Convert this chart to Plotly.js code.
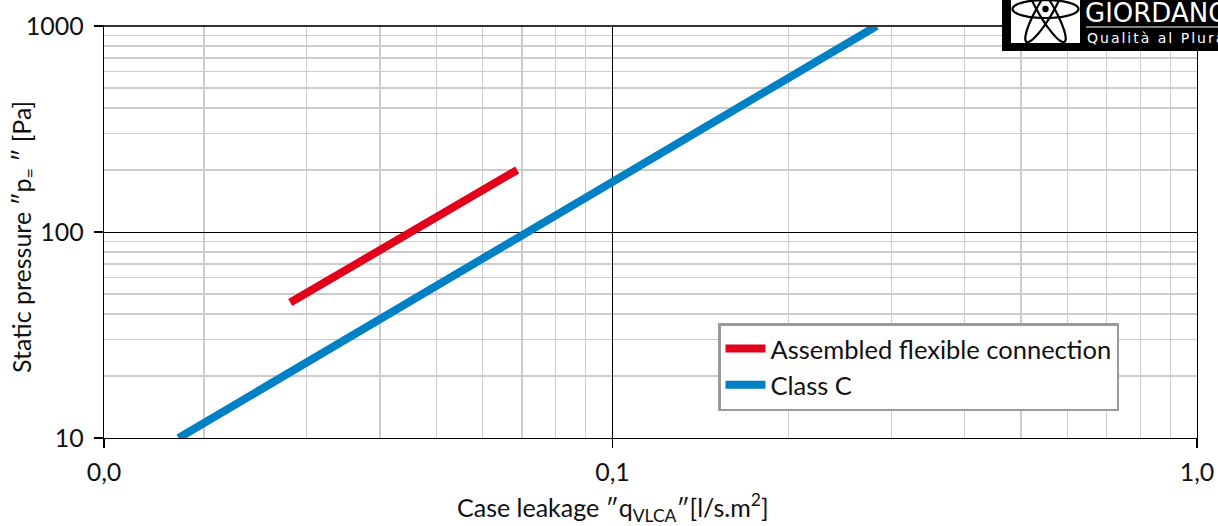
<!DOCTYPE html>
<html>
<head>
<meta charset="utf-8">
<script src="https://cdn.plot.ly/plotly-3.0.1.min.js"></script>
<style>
html,body{margin:0;padding:0;background:#fff;}
#chart{width:1218px;height:526px;}
</style>
</head>
<body>
<div id="chart"></div>
<script>
// ---- data ----
const seriesNames = ['Assembled flexible connection', 'Class C'];
const flexX = [0.0281, 0.0687];
const flexY = [45.5, 200];
const classCX = [0.0181, 0.283];
const classCY = [10, 1000];

// ---- axes ----
const xTickVals = [0.01349, 0.1, 1];
const xTickText = ['0,0', '0,1', '1,0'];
const yTickVals = [10, 100, 1000];
const yTickText = ['10', '100', '1000'];
const xMinorVals = [0.02,0.03,0.04,0.05,0.06,0.07,0.08,0.09,0.2,0.3,0.4,0.5,0.6,0.7,0.8,0.9];
const yMinorVals = [20,30,40,50,60,70,80,90,200,300,400,500,600,700,800,900];

const xTitle = 'Case leakage ″q<sub>VLCA</sub>″[l/s.m<sup>2</sup>]';
const yTitle = 'Static pressure ″p<sub>=</sub> ″ [Pa]';
const logoTitle = 'GIORDANO';
const logoSub = 'Qualità al Plurale';

const FONT = 'Lato, "Open Sans", sans-serif';
const LOGOFONT = '"DejaVu Sans", sans-serif';
const RED = '#e2001a';
const BLUE = '#0081c6';

const traces = [
  {x: flexX, y: flexY, name: seriesNames[0], mode: 'lines', type: 'scatter',
   line: {color: RED, width: 8}},
  {x: classCX, y: classCY, name: seriesNames[1], mode: 'lines', type: 'scatter',
   line: {color: BLUE, width: 8}}
];

// pixel -> paper helpers (for decoration placement)
const ML = 104, MR = 21, MT = 26, MB = 88, W = 1218, H = 526;
const PW = W - ML - MR, PH = H - MT - MB;
const px = v => (v - ML) / PW;
const py = v => (H - MB - v) / PH;

// atom logo outline (decoration)
function ellipsePath(cx, cy, rx, ry, deg) {
  const th = deg * Math.PI / 180;
  let d = '';
  for (let i = 0; i <= 72; i++) {
    const t = i / 72 * 2 * Math.PI;
    const X = cx + rx * Math.cos(t) * Math.cos(th) - ry * Math.sin(t) * Math.sin(th);
    const Y = cy + rx * Math.cos(t) * Math.sin(th) + ry * Math.sin(t) * Math.cos(th);
    d += (i === 0 ? 'M' : 'L') + px(X).toFixed(5) + ',' + py(Y).toFixed(5);
  }
  return d + 'Z';
}
const ACX = 1045.5, ACY = 9;
const atomShapes = [[33, 9, 0], [38, 8, 60], [38, 8, -60]].map(e => ({
  type: 'path', xref: 'paper', yref: 'paper', path: ellipsePath(ACX, ACY, e[0], e[1], e[2]),
  line: {color: '#000', width: 2.2}, fillcolor: 'rgba(0,0,0,0)', layer: 'above'
}));

const layout = {
  width: W, height: H,
  margin: {l: ML, r: MR, t: MT, b: MB, pad: 0},
  paper_bgcolor: '#fff', plot_bgcolor: '#fff',
  font: {family: FONT, color: '#111', size: 24},
  showlegend: true,
  legend: {
    x: px(718), y: py(323), xanchor: 'left', yanchor: 'top',
    bgcolor: '#fff', bordercolor: '#9a9a9a', borderwidth: 2.5,
    font: {family: FONT, size: 25.5, color: '#111'},
    itemwidth: 40
  },
  xaxis: {
    type: 'log',
    range: [Math.log10(xTickVals[0]), 0],
    tickmode: 'array', tickvals: xTickVals, ticktext: xTickText,
    ticks: 'outside', ticklen: 9, tickwidth: 1.3, tickcolor: '#000',
    tickfont: {family: FONT, size: 25, color: '#111'},
    ticklabelstandoff: 3,
    showline: true, linecolor: '#000', linewidth: 1.3, mirror: true,
    showgrid: true, gridcolor: '#000', gridwidth: 1,
    minor: {tickmode: 'array', tickvals: xMinorVals, showgrid: true, gridcolor: '#cccccc', gridwidth: 1.2, ticks: ''},
    zeroline: false,
    fixedrange: true
  },
  yaxis: {
    type: 'log',
    range: [1, 3],
    tickmode: 'array', tickvals: yTickVals, ticktext: yTickText,
    ticks: 'outside', ticklen: 9, tickwidth: 1.3, tickcolor: '#000',
    tickfont: {family: FONT, size: 25, color: '#111'},
    ticklabelstandoff: 5,
    showline: true, linecolor: '#000', linewidth: 1.3, mirror: true,
    showgrid: true, gridcolor: '#000', gridwidth: 1,
    minor: {tickmode: 'array', tickvals: yMinorVals, showgrid: true, gridcolor: '#cccccc', gridwidth: 1.2, ticks: ''},
    zeroline: false,
    fixedrange: true
  },
  shapes: [
    // darker top border
    {type: 'line', xref: 'paper', yref: 'paper', x0: 0, x1: 1, y0: 1, y1: 1, line: {color: '#333', width: 2}},
    // logo block
    {type: 'rect', xref: 'paper', yref: 'paper', x0: px(1002), x1: px(1230), y0: py(51), y1: py(-5), fillcolor: '#000', line: {width: 0}, layer: 'above'},
    {type: 'rect', xref: 'paper', yref: 'paper', x0: px(1011), x1: px(1080), y0: py(43), y1: py(-5), fillcolor: '#fff', line: {width: 0}, layer: 'above'},
    {type: 'line', xref: 'paper', yref: 'paper', x0: px(1086), x1: px(1230), y0: py(27), y1: py(27), line: {color: '#fff', width: 1.2}, layer: 'above'}
  ].concat(atomShapes).concat([
    {type: 'circle', xref: 'paper', yref: 'paper', x0: px(ACX - 3.2), x1: px(ACX + 3.2), y0: py(ACY + 3.2), y1: py(ACY - 3.2), fillcolor: '#000', line: {width: 0}, layer: 'above'}
  ]),
  annotations: [
    {text: xTitle, xref: 'paper', yref: 'paper', x: px(613), y: py(507), xanchor: 'center', yanchor: 'middle',
     showarrow: false, font: {family: FONT, size: 25, color: '#111'}},
    {text: yTitle, xref: 'paper', yref: 'paper', x: px(23), y: py(237), xanchor: 'center', yanchor: 'middle',
     textangle: -90, showarrow: false, font: {family: FONT, size: 25, color: '#111'}},
    {text: logoTitle, xref: 'paper', yref: 'paper', x: px(1083), y: py(13), xanchor: 'left', yanchor: 'middle',
     showarrow: false, font: {family: LOGOFONT, size: 26, color: '#fff'}},
    {text: logoSub, xref: 'paper', yref: 'paper', x: px(1085), y: py(38), xanchor: 'left', yanchor: 'middle',
     showarrow: false, font: {family: LOGOFONT, size: 14, color: '#fff'}}
  ]
};

Plotly.newPlot('chart', traces, layout, {displayModeBar: false, staticPlot: true}).then(function (gd) {
  gd.querySelectorAll('g.annotation text').forEach(function (t) {
    if (t.textContent === logoSub) {
      const before = t.getBBox();
      t.style.letterSpacing = '2px';
      const after = t.getBBox();
      const dx = before.x - after.x;
      const prev = t.getAttribute('transform') || '';
      t.setAttribute('transform', (prev + ' translate(' + dx + ',0)').trim());
    }
  });
});
</script>
</body>
</html>
